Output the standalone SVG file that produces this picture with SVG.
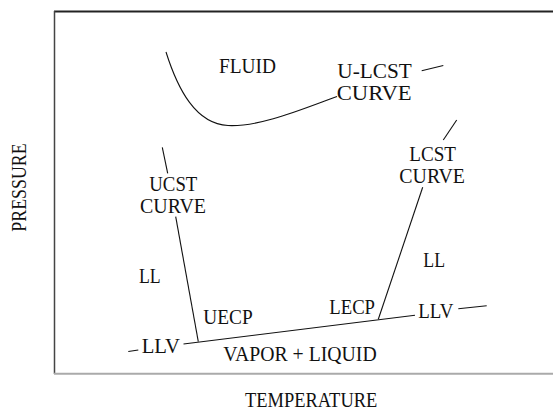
<svg xmlns="http://www.w3.org/2000/svg" width="553" height="418" viewBox="0 0 553 418">
<style>
text{font-family:"Liberation Serif","Times New Roman",serif;font-size:20px;fill:#111}
.c{fill:none;stroke:#111;stroke-width:1.1}
</style>
<rect width="553" height="418" fill="#fff"/>
<g id="frame">
<line x1="54" y1="11.5" x2="553" y2="11.5" stroke="#222" stroke-width="2"/>
<line x1="54.5" y1="11" x2="54.5" y2="374" stroke="#444" stroke-width="1.5"/>
<line x1="54" y1="373.7" x2="553" y2="373.7" stroke="#aaa" stroke-width="2"/>
</g>
<g id="connectors">
<path class="c" d="M166,52 C178,90 196,124 228,125.5 S300,110 337,96.5"/>
<line class="c" x1="421.7" y1="70.7" x2="443.3" y2="65.5"/>
<line class="c" x1="162.3" y1="147.3" x2="167.7" y2="173.3"/>
<line class="c" x1="175.7" y1="216.7" x2="198.3" y2="341.7"/>
<line class="c" x1="456.7" y1="120" x2="443.3" y2="140"/>
<line class="c" x1="422.7" y1="187.3" x2="378.3" y2="319.3"/>
<line class="c" x1="183.5" y1="344" x2="415" y2="315.3"/>
<line class="c" x1="128.3" y1="351.5" x2="138.3" y2="350"/>
<line class="c" x1="458.3" y1="308.7" x2="486.7" y2="305.7"/>
</g>
<g id="fluid"><text x="219" y="73.3" textLength="57" lengthAdjust="spacingAndGlyphs">FLUID</text></g>
<g id="ulcst"><text x="337.3" y="78" textLength="74.4" lengthAdjust="spacingAndGlyphs">U-LCST</text><text x="336.7" y="100" textLength="75" lengthAdjust="spacingAndGlyphs">CURVE</text></g>
<g id="ucst"><text x="149.3" y="191" textLength="48" lengthAdjust="spacingAndGlyphs">UCST</text><text x="140" y="212.7" textLength="66" lengthAdjust="spacingAndGlyphs">CURVE</text></g>
<g id="lcst"><text x="409.3" y="161" textLength="46.7" lengthAdjust="spacingAndGlyphs">LCST</text><text x="399.3" y="182.7" textLength="65.7" lengthAdjust="spacingAndGlyphs">CURVE</text></g>
<g id="ll-left"><text x="139" y="283.3" textLength="21.7" lengthAdjust="spacingAndGlyphs">LL</text></g>
<g id="ll-right"><text x="423.3" y="266.7" textLength="21.7" lengthAdjust="spacingAndGlyphs">LL</text></g>
<g id="uecp"><text x="203.3" y="324" textLength="49.4" lengthAdjust="spacingAndGlyphs">UECP</text></g>
<g id="lecp"><text x="329.3" y="314.3" textLength="45.7" lengthAdjust="spacingAndGlyphs">LECP</text></g>
<g id="llv-left"><text x="141.7" y="353.3" textLength="38.3" lengthAdjust="spacingAndGlyphs">LLV</text></g>
<g id="llv-right"><text x="418.3" y="318.3" textLength="35" lengthAdjust="spacingAndGlyphs">LLV</text></g>
<g id="vapor"><text x="223.3" y="360.7" textLength="153.4" lengthAdjust="spacingAndGlyphs">VAPOR + LIQUID</text></g>
<g id="temperature"><text x="245" y="406.7" textLength="132.3" lengthAdjust="spacingAndGlyphs">TEMPERATURE</text></g>
<g id="pressure"><text transform="translate(26,231.7) rotate(-90)" x="0" y="0" textLength="88.4" lengthAdjust="spacingAndGlyphs">PRESSURE</text></g>
</svg>
